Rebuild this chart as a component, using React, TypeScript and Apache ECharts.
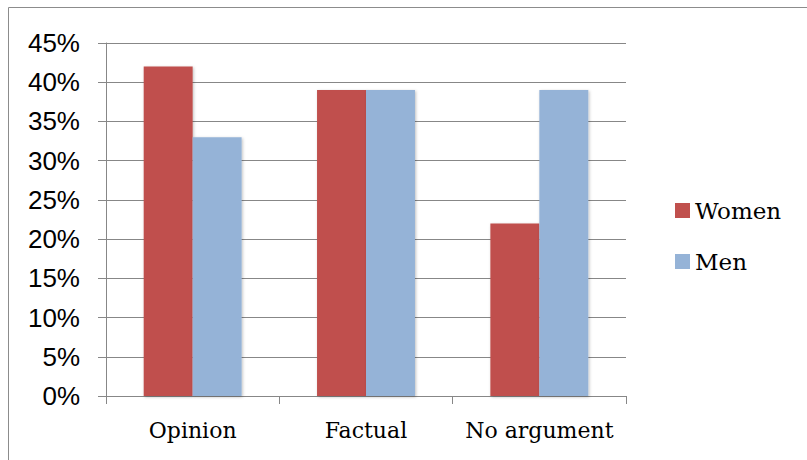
import React, { useEffect, useRef } from "react";
import * as echarts from "echarts";

const categories = ["Opinion", "Factual", "No argument"];
const women = [42, 39, 22];
const men = [33, 39, 39];
const seriesNames = ["Women", "Men"];
const colors = ["#C0504D", "#95B3D7"];

const gridColor = "#878787";

export default function App() {
  const ref = useRef<HTMLDivElement>(null);

  useEffect(() => {
    document.body.style.margin = "0";
    const chart = echarts.init(ref.current!, null, { renderer: "svg" });
    chart.setOption({
      animation: false,
      backgroundColor: "#ffffff",
      color: colors,
      graphic: [
        {
          type: "polyline",
          shape: { points: [[8.5, 460], [8.5, 7.5], [807, 7.5]] },
          style: { stroke: "#8c8c8c", lineWidth: 1, fill: "none" },
          silent: true,
        },
      ],
      grid: { left: 106, right: 181, top: 43, bottom: 64 },
      legend: {
        orient: "vertical",
        left: 675,
        top: 199,
        padding: 0,
        itemWidth: 15,
        itemHeight: 15,
        itemGap: 28,
        icon: "rect",
        textStyle: {
          fontFamily: "DejaVu Serif",
          fontSize: 23,
          color: "#000",
        },
        data: seriesNames,
      },
      xAxis: {
        type: "category",
        data: categories,
        axisLine: { show: true, lineStyle: { color: gridColor, width: 1 } },
        axisTick: { show: true, length: 8, lineStyle: { color: gridColor } },
        axisLabel: {
          interval: 0,
          fontFamily: "DejaVu Serif",
          fontSize: 22,
          color: "#000",
          margin: 23,
        },
      },
      yAxis: {
        type: "value",
        min: 0,
        max: 45,
        interval: 5,
        axisLine: { show: true, lineStyle: { color: gridColor, width: 1 } },
        axisTick: { show: true, length: 8, lineStyle: { color: gridColor } },
        splitLine: { show: true, lineStyle: { color: gridColor, width: 1 } },
        axisLabel: {
          formatter: "{value}%",
          fontFamily: "Liberation Sans",
          fontSize: 26,
          color: "#000",
          margin: 26,
        },
      },
      series: [
        {
          name: seriesNames[0],
          type: "bar",
          data: women,
          barGap: "0%",
          barCategoryGap: "43.5%",
          itemStyle: {
            color: colors[0],
            shadowColor: "rgba(0,0,0,0.25)",
            shadowBlur: 3,
            shadowOffsetX: 1,
            shadowOffsetY: 1,
          },
        },
        {
          name: seriesNames[1],
          type: "bar",
          data: men,
          barGap: "0%",
          barCategoryGap: "43.5%",
          itemStyle: {
            color: colors[1],
            shadowColor: "rgba(0,0,0,0.25)",
            shadowBlur: 3,
            shadowOffsetX: 1,
            shadowOffsetY: 1,
          },
        },
      ],
    });
    return () => chart.dispose();
  }, []);

  return <div ref={ref} style={{ width: 807, height: 460 }} />;
}
